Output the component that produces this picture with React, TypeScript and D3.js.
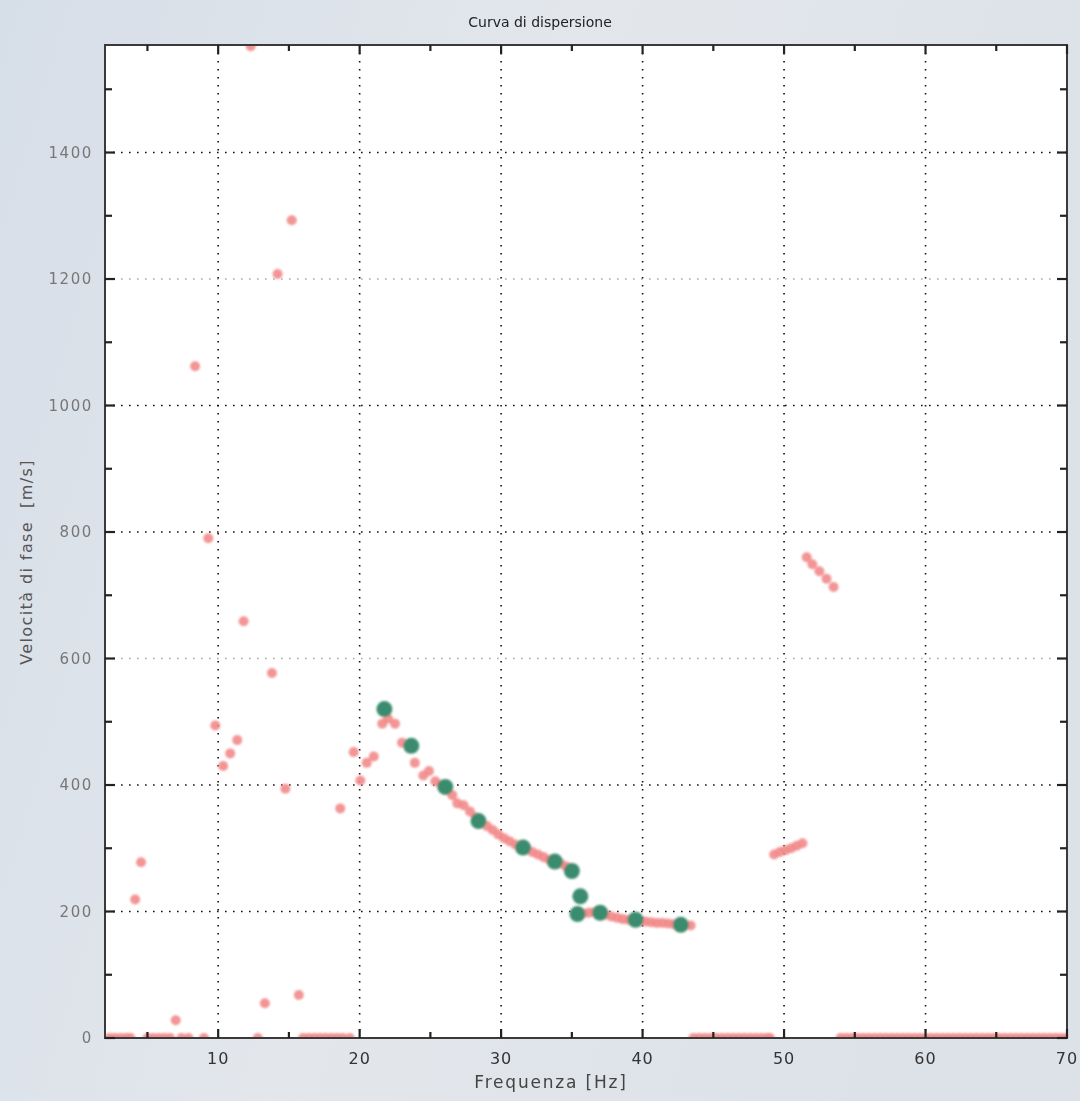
import React, { useRef, useEffect } from "react";
import * as d3 from "d3";

// red picks: scattered points (Hz, m/s)
const redFreq = [4.13, 4.55, 7.0, 8.37, 9.3, 9.8, 10.35, 10.85, 11.35, 11.8, 12.3, 13.3, 13.8, 14.2, 14.75, 15.2, 15.7,
  18.63, 19.58, 20.05, 20.5, 21.0];
const redVel = [219, 278, 28, 1062, 790, 494, 430, 450, 471, 659, 1568, 55, 577, 1208, 394, 1293, 68,
  363, 452, 407, 435, 445];

// red picks along the main dispersion branch
const curveFreq = [21.6, 22.0, 22.5, 23.0, 23.5, 23.9, 24.5, 24.9, 25.35, 25.8, 26.2, 26.55, 26.9, 27.35, 27.8, 28.2,
  28.6, 29.0, 29.4, 29.8, 30.2, 30.6, 31.0, 31.4, 31.8, 32.2, 32.6, 33.0, 33.4, 33.8, 34.2, 34.6, 35.0,
  35.4, 35.8, 36.2, 36.6, 37.0, 37.4, 37.8, 38.2, 38.6, 39.0, 39.4, 39.8, 40.2, 40.6, 41.0, 41.4, 41.8,
  42.2, 42.6, 43.0, 43.4];
const curveVel = [497, 505, 497, 467, 458, 435, 415, 422, 406, 400, 392, 384, 371, 368, 358, 349,
  342, 335, 329, 322, 316, 311, 306, 302, 298, 294, 290, 286, 282, 279, 276, 271, 265,
  198, 197, 198, 199, 198, 195, 192, 190, 188, 187, 186, 185, 184, 183, 182, 182, 181,
  180, 180, 179, 178];

// higher mode segments near 50 Hz
const segFreq = [49.3, 49.7, 50.1, 50.5, 50.9, 51.3, 51.6, 52.0, 52.5, 53.0, 53.5];
const segVel = [290, 294, 297, 300, 304, 308, 760, 749, 738, 726, 713];

// picks with zero velocity (failed picks)
const zeroFreq = [2.3, 2.7, 3.1, 3.5, 3.8, 5.0, 5.4, 5.8, 6.2, 6.6, 7.4, 7.9, 9.0, 12.8,
  16.0, 16.4, 16.8, 17.2, 17.6, 18.0, 18.4, 18.8, 19.3,
  43.6, 44.0, 44.4, 44.8, 45.2, 45.6, 46.0, 46.4, 46.8, 47.2, 47.6, 48.0, 48.4, 48.8, 49.0,
  54.0, 54.4, 54.8, 55.2, 55.6, 56.0, 56.4, 56.8, 57.2, 57.6, 58.0, 58.4, 58.8, 59.2, 59.6, 60.0,
  60.4, 60.8, 61.2, 61.6, 62.0, 62.4, 62.8, 63.2, 63.6, 64.0, 64.4, 64.8, 65.2, 65.6, 66.0, 66.4,
  66.8, 67.2, 67.6, 68.0, 68.4, 68.8, 69.2, 69.6, 70.0];

// selected (green) points
const greenFreq = [21.75, 23.65, 26.05, 28.4, 31.55, 33.8, 35.0, 35.6, 35.4, 37.0, 39.5, 42.7];
const greenVel = [520, 462, 397, 343, 301, 279, 264, 224, 196, 198, 187, 179];

const xTicks = [10, 20, 30, 40, 50, 60, 70];
const yTicks = [0, 200, 400, 600, 800, 1000, 1200, 1400];

const W = 1080, H = 1101;
const M = { left: 105, right: 1067, top: 45, bottom: 1038 };

function App() {
  const svgRef = useRef(null);

  useEffect(() => {
    const svg = d3.select(svgRef.current);
    svg.selectAll("*").remove();

    const x = d3.scaleLinear().domain([2, 70]).range([M.left, M.right]);
    const y = d3.scaleLinear().domain([0, 1570]).range([M.bottom, M.top]);

    const defs = svg.append("defs");
    const grad = defs.append("linearGradient").attr("id", "bg").attr("x1", 0).attr("x2", 1).attr("y1", 0).attr("y2", 0.3);
    grad.append("stop").attr("offset", "0%").attr("stop-color", "#d6dee8");
    grad.append("stop").attr("offset", "50%").attr("stop-color", "#e3e7ec");
    grad.append("stop").attr("offset", "100%").attr("stop-color", "#dde2e8");
    defs.append("clipPath").attr("id", "plotclip")
      .append("rect").attr("x", M.left).attr("y", M.top)
      .attr("width", M.right - M.left).attr("height", M.bottom - M.top);
    defs.append("filter").attr("id", "soft")
      .append("feGaussianBlur").attr("stdDeviation", 0.8);

    svg.append("rect").attr("width", W).attr("height", H).attr("fill", "url(#bg)");
    svg.append("rect").attr("x", M.left).attr("y", M.top)
      .attr("width", M.right - M.left).attr("height", M.bottom - M.top).attr("fill", "#fff");

    // grid
    const grid = svg.append("g").attr("stroke", "#111").attr("stroke-width", 1.6)
      .attr("stroke-dasharray", "1.6,6.4");
    grid.selectAll(".vg").data(xTicks.filter(d => d < 70)).join("line")
      .attr("x1", d => x(d)).attr("x2", d => x(d)).attr("y1", M.top).attr("y2", M.bottom);
    grid.selectAll(".hg").data(yTicks.filter(d => d > 0)).join("line")
      .attr("x1", M.left).attr("x2", M.right).attr("y1", d => y(d)).attr("y2", d => y(d))
      .attr("opacity", d => (d === 600 || d === 1200 ? 0.35 : 1));

    // points
    const pts = svg.append("g").attr("clip-path", "url(#plotclip)").attr("filter", "url(#soft)");
    const red = [
      ...redFreq.map((f, i) => [f, redVel[i]]),
      ...curveFreq.map((f, i) => [f, curveVel[i]]),
      ...segFreq.map((f, i) => [f, segVel[i]]),
      ...zeroFreq.map(f => [f, 0]),
    ];
    pts.selectAll(".r").data(red).join("circle")
      .attr("cx", d => x(d[0])).attr("cy", d => y(d[1])).attr("r", 5)
      .attr("fill", "#f28a8a").attr("opacity", 0.9);
    pts.selectAll(".g").data(greenFreq.map((f, i) => [f, greenVel[i]])).join("circle")
      .attr("cx", d => x(d[0])).attr("cy", d => y(d[1])).attr("r", 8)
      .attr("fill", "#3a8c6e");

    // frame
    svg.append("rect").attr("x", M.left).attr("y", M.top)
      .attr("width", M.right - M.left).attr("height", M.bottom - M.top)
      .attr("fill", "none").attr("stroke", "#3a3a3a").attr("stroke-width", 2);

    // ticks on all sides, inside
    const tk = svg.append("g").attr("stroke", "#222").attr("stroke-width", 2.2);
    const xt = d3.range(5, 71, 5);
    tk.selectAll(".xb").data(xt).join("line")
      .attr("x1", d => x(d)).attr("x2", d => x(d))
      .attr("y1", M.bottom).attr("y2", d => M.bottom - (d % 10 === 0 ? 9 : 6));
    tk.selectAll(".xt").data(xt).join("line")
      .attr("x1", d => x(d)).attr("x2", d => x(d))
      .attr("y1", M.top).attr("y2", d => M.top + (d % 10 === 0 ? 9 : 6));
    const yt = d3.range(0, 1501, 100);
    tk.selectAll(".yl").data(yt).join("line")
      .attr("y1", d => y(d)).attr("y2", d => y(d))
      .attr("x1", M.left).attr("x2", d => M.left + (d % 200 === 0 ? 10 : 7));
    tk.selectAll(".yr").data(yt).join("line")
      .attr("y1", d => y(d)).attr("y2", d => y(d))
      .attr("x1", M.right).attr("x2", d => M.right - (d % 200 === 0 ? 10 : 7));

    const font = "'DejaVu Sans', Verdana, sans-serif";
    svg.selectAll(".xl").data(xTicks).join("text")
      .attr("x", d => x(d)).attr("y", 1064).attr("text-anchor", "middle")
      .attr("font-family", font).attr("font-size", 16).attr("letter-spacing", 1)
      .attr("fill", "#333").text(d => d);
    svg.selectAll(".yl2").data(yTicks).join("text")
      .attr("x", 93).attr("y", d => y(d) + 5).attr("text-anchor", "end")
      .attr("font-family", font).attr("font-size", 15).attr("letter-spacing", 1.6)
      .attr("fill", "#777").text(d => d);

    svg.append("text").attr("x", 540).attr("y", 27).attr("text-anchor", "middle")
      .attr("font-family", font).attr("font-size", 14).attr("fill", "#222").text("Curva di dispersione");
    svg.append("text").attr("x", 551).attr("y", 1088).attr("text-anchor", "middle")
      .attr("font-family", font).attr("font-size", 17).attr("letter-spacing", 1.8)
      .attr("fill", "#444").text("Frequenza [Hz]");
    svg.append("text").attr("transform", "translate(32,562) rotate(-90)").attr("text-anchor", "middle")
      .attr("font-family", font).attr("font-size", 16).attr("letter-spacing", 1.4)
      .attr("fill", "#555").attr("xml:space", "preserve").text("Velocità di fase  [m/s]");
  }, []);

  return (
    <svg ref={svgRef} width={W} height={H}
      style={{ position: "absolute", left: 0, top: 0, display: "block" }} />
  );
}

export default App;
